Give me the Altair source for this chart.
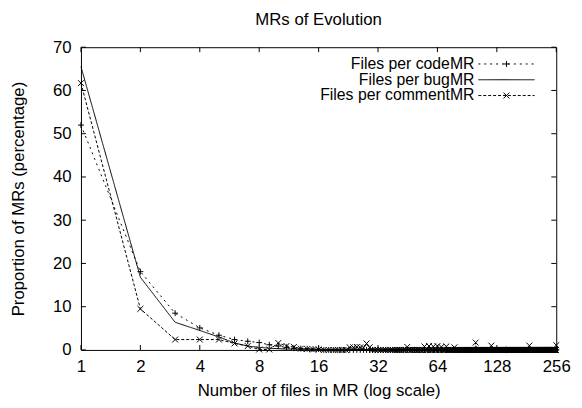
import altair as alt
import pandas as pd

# ---------------- data ----------------
series_names = ["Files per codeMR", "Files per bugMR", "Files per commentMR"]
sizes = list(range(1, 257))

code_head = [52.0, 18.1, 8.5, 5.1, 3.4, 2.4, 2.0, 1.7, 1.2, 0.9, 0.6, 0.4, 0.3, 0.3, 0.2, 0.2]
bug_head = [65.5, 16.8, 6.4, 4.5, 3.0, 1.6, 0.9, 0.6, 0.4, 0.3, 0.2, 0.2, 0.1, 0.1, 0.1, 0.1]
comment_head = [61.7, 9.5, 2.4, 2.4, 2.4, 1.5, 0.9, 0.1, 0.1, 1.6, 0.9, 0.7, 0.3, 0.2, 0.1, 0.1]

comment_spike_sizes = [23, 24, 25, 26, 27, 28, 29, 45, 55, 58, 61, 64, 67, 71, 78, 100, 120, 187, 256]
comment_spike_values = [0.6, 0.6, 0.7, 0.6, 0.5, 1.5, 0.6, 0.7, 0.8, 0.9, 0.8, 0.9, 0.7, 0.8, 0.6, 1.7, 1.0, 1.0, 1.1]

x_ticks = [1, 2, 4, 8, 16, 32, 64, 128, 256]
y_ticks = [0, 10, 20, 30, 40, 50, 60, 70]


def full_series(head, spike_sizes=(), spike_values=()):
    vals = {i + 1: v for i, v in enumerate(head)}
    vals.update(dict(zip(spike_sizes, spike_values)))
    return [vals.get(s, 0.0) for s in sizes]


code_vals = full_series(code_head)
bug_vals = full_series(bug_head)
comment_vals = full_series(comment_head, comment_spike_sizes, comment_spike_values)

rows = []
for name, vals in zip(series_names, [code_vals, bug_vals, comment_vals]):
    for s, v in zip(sizes, vals):
        rows.append({"size": s, "value": v, "series": name})
df = pd.DataFrame(rows)
df_pts = df[df["series"] != "Files per bugMR"]

# ---------------- styling ----------------
FONT = "Liberation Sans"
FS = 17
LFS = 16
W, H = 482, 307
PLUS = "M-1,0L1,0M0,-1L0,1"
CROSS = "M-1,-1L1,1M-1,1L1,-1"
dash_domain = series_names
dash_range = [[2, 4], [1, 0], [3, 2]]

xscale = alt.Scale(type="log", base=2, domain=[1, 256], nice=False, zero=False)
yscale = alt.Scale(domain=[0, 70], nice=False, zero=False)

common_axis = dict(ticks=False, domain=False, grid=False,
                   labelFont=FONT, titleFont=FONT, labelFontSize=FS,
                   titleFontSize=FS, labelColor="black", titleColor="black",
                   titleFontWeight="normal")
xaxis = alt.Axis(values=x_ticks, format="d", title="Number of files in MR (log scale)",
                 labelPadding=9, titlePadding=8, labelFlush=False, **common_axis)
yaxis = alt.Axis(values=y_ticks, title="Proportion of MRs (percentage)",
                 labelPadding=10, titlePadding=25, **common_axis)

lines = alt.Chart(df).mark_line(color="black", strokeWidth=1).encode(
    x=alt.X("size:Q", scale=xscale, axis=xaxis),
    y=alt.Y("value:Q", scale=yscale, axis=yaxis),
    strokeDash=alt.StrokeDash("series:N", scale=alt.Scale(domain=dash_domain, range=dash_range), legend=None),
    detail="series:N",
    order="size:Q",
)

points = alt.Chart(df_pts).mark_point(color="black", filled=False, strokeWidth=1, size=36, opacity=1).encode(
    x=alt.X("size:Q"),
    y=alt.Y("value:Q"),
    shape=alt.Shape("series:N", scale=alt.Scale(domain=[series_names[0], series_names[2]], range=[PLUS, CROSS]), legend=None),
)

# inward ticks on all four sides
xt = pd.DataFrame({"size": x_ticks})
yt = pd.DataFrame({"value": y_ticks})
tick_len = 5
bx = alt.Chart(xt).mark_rule(color="black", strokeWidth=1).encode(
    x="size:Q", y=alt.value(H), y2=alt.value(H - tick_len))
tx = alt.Chart(xt).mark_rule(color="black", strokeWidth=1).encode(
    x="size:Q", y=alt.value(0), y2=alt.value(tick_len))
ly = alt.Chart(yt).mark_rule(color="black", strokeWidth=1).encode(
    y="value:Q", x=alt.value(0), x2=alt.value(tick_len))
ry = alt.Chart(yt).mark_rule(color="black", strokeWidth=1).encode(
    y="value:Q", x=alt.value(W), x2=alt.value(W - tick_len))

# gnuplot-style key at the top right
legend_layers = []
row_y = [17, 33, 49]
markers = [PLUS, None, CROSS]
for name, yy, dash, mk in zip(series_names, row_y, dash_range, markers):
    one = pd.DataFrame({"label": [name]})
    legend_layers.append(
        alt.Chart(one).mark_text(align="right", baseline="middle", font=FONT, fontSize=LFS, color="black").encode(
            x=alt.value(399), y=alt.value(yy), text="label:N"))
    legend_layers.append(
        alt.Chart(one).mark_rule(color="black", strokeWidth=1, strokeDash=dash).encode(
            x=alt.value(403), x2=alt.value(460), y=alt.value(yy)))
    if mk:
        legend_layers.append(
            alt.Chart(one).mark_point(color="black", filled=False, strokeWidth=1, size=36, shape=mk, opacity=1).encode(
                x=alt.value(431.5), y=alt.value(yy)))

chart = alt.layer(lines, points, bx, tx, ly, ry, *legend_layers).properties(
    width=W, height=H,
    title=alt.TitleParams("MRs of Evolution", font=FONT, fontSize=FS, fontWeight="normal",
                          anchor="middle", frame="group", offset=10, color="black"),
    autosize=alt.AutoSizeParams(type="none"),
    padding={"left": 74, "top": 37, "right": 18, "bottom": 48},
    background="white",
).configure_view(stroke="black", strokeWidth=1)

chart.save("out.html", embed_options={"renderer": "svg", "actions": False})
